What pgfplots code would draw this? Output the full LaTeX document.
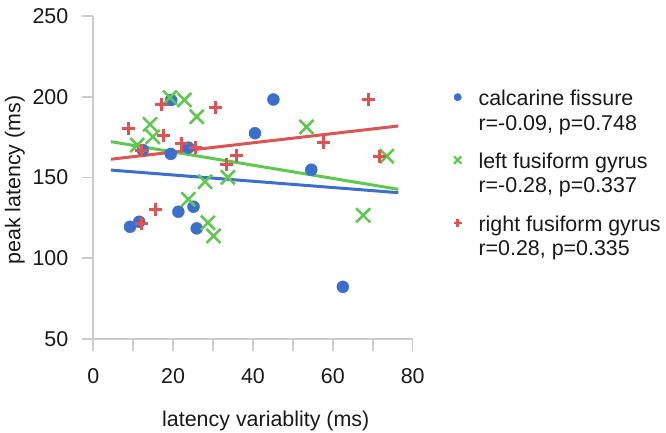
\documentclass[border=0pt]{standalone}
\usepackage{pgfplots}
\pgfplotsset{compat=1.18}
\usepackage{fontspec}
\setmainfont{Liberation Sans}
\definecolor{cblue}{RGB}{60,110,205}
\definecolor{cgreen}{RGB}{95,200,80}
\definecolor{cred}{RGB}{220,85,85}
\definecolor{cgray}{RGB}{204,204,204}
\definecolor{ctext}{RGB}{25,25,25}
\newcommand{\ff}{\fontsize{21.5}{25}\selectfont}
\pgfplotsset{
  legdot/.style={legend image code/.code={\draw[##1, mark size=3.7bp] plot coordinates {(0bp,0bp)};}},
  legx/.style={legend image code/.code={\draw[##1, mark size=5.2bp, line width=2.2bp] plot coordinates {(0bp,0bp)};}},
  legplus/.style={legend image code/.code={\draw[##1, mark size=3.9bp, line width=2.4bp] plot coordinates {(0bp,0bp)};}},
}
\begin{document}
\begin{tikzpicture}
\begin{axis}[name=ax, scale only axis, width=319.4bp, height=323bp,
  xmin=0, xmax=80, ymin=50, ymax=250,
  axis lines=left, axis line style={draw=cgray, line width=1.6bp, -},
  xtick={0,20,...,80}, minor xtick={10,30,50,70}, ytick={50,100,...,250},
  tick align=outside, major tick length=11.5bp, minor tick length=11.5bp,
  every tick/.style={draw=cgray, line width=1.6bp},
  tick label style={font=\ff, text=ctext},
  xticklabel style={yshift=-15bp},
  yticklabel style={xshift=-10bp},
  /pgf/number format/assume math mode=true,
  xlabel={latency variablity (ms)}, ylabel={peak latency (ms)},
  label style={font=\ff, text=ctext},
  xlabel style={at={(axis description cs:0.54,-0.271)}, anchor=base},
  ylabel style={at={(axis description cs:-0.228,0.492)}, anchor=base},
  clip=false,
  legend cell align=left,
  legend style={at={(axis description cs:1.128,0.7786)}, anchor=north west,
    draw=none, fill=none, font=\ff, text=ctext, inner sep=0pt,
    row sep=44bp, column sep=17bp, nodes={inner sep=0pt}},
]
\addplot[only marks, mark=*, mark size=6bp, color=cblue, mark options={fill=cblue, draw=cblue}, legdot] coordinates {
(9.2,119.5) (11.5,122.6) (12.4,167.0) (19.5,198.0) (19.4,164.6) (23.8,168.5)
(21.3,128.8) (25.1,131.9) (25.9,118.5) (40.5,177.4) (45.1,198.3) (54.6,154.8) (62.5,82.3)
};
\addlegendentry{\begin{tabular}[t]{@{}l@{}}calcarine fissure\\r=-0.09, p=0.748\end{tabular}}
\addplot[only marks, mark=x, mark size=9.9bp, color=cgreen, line width=2.6bp, legx] coordinates {
(11.0,170.1) (14.2,182.9) (14.9,175.2) (19.2,199.5) (22.8,198.0) (25.9,187.6)
(23.8,136.5) (28.0,147.4) (33.7,150.1) (28.7,122.0) (30.1,113.8) (53.4,181.3)
(73.5,163.2) (67.6,126.6)
};
\addlegendentry{\begin{tabular}[t]{@{}l@{}}left fusiform gyrus\\r=-0.28, p=0.337\end{tabular}}
\addplot[only marks, mark=+, mark size=6.5bp, color=cred, line width=3bp, legplus] coordinates {
(8.8,180.5) (12.1,167.0) (12.1,121.6) (15.5,130.3) (17.0,194.9) (17.5,176.3)
(22.2,171.2) (25.5,168.5) (30.7,193.2) (33.4,158.2) (35.9,163.9) (57.7,171.5)
(69.0,198.3) (71.8,163.0)
};
\addlegendentry{\begin{tabular}[t]{@{}l@{}}right fusiform gyrus\\r=0.28, p=0.335\end{tabular}}
\addplot[no marks, color=cblue, line width=3bp, forget plot] coordinates {(4.4,154.6) (76.4,140.6)};
\addplot[no marks, color=cgreen, line width=3bp, forget plot] coordinates {(4.4,172.2) (76.4,142.7)};
\addplot[no marks, color=cred, line width=3bp, forget plot] coordinates {(4.4,161.3) (76.4,181.9)};
\end{axis}
\pgfresetboundingbox
\path ([shift={(-93.3bp,-94bp)}]ax.south west) rectangle ++(666bp,433bp);
\end{tikzpicture}
\end{document}
